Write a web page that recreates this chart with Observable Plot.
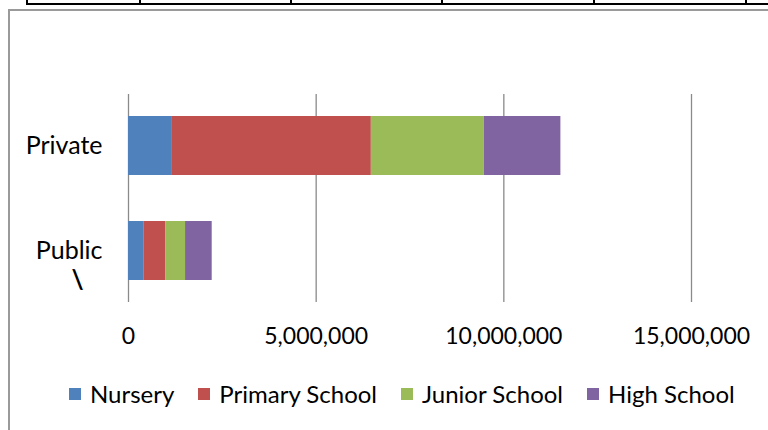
<!DOCTYPE html>
<html>
<head>
<meta charset="utf-8">
<script src="https://cdn.jsdelivr.net/npm/d3@7"></script>
<script src="https://cdn.jsdelivr.net/npm/@observablehq/plot@0.6"></script>
<style>
  html, body { margin: 0; padding: 0; background: #fff; }
  #wrap { position: relative; width: 768px; height: 430px; overflow: hidden; font-family: Lato, "Open Sans", sans-serif; }
  .ruler { position: absolute; background: #000; }
  .frame { position: absolute; background: #9a9a9a; }
  #chart { position: absolute; left: 0; top: 0; }
  #legend { position: absolute; left: 69px; top: 379px; display: flex; align-items: center; font-size: 24px; color: #000; white-space: nowrap; }
  #legend .item { display: flex; align-items: center; margin-right: 24px; }
  #legend .sw { width: 12px; height: 12px; margin-right: 9px; }
</style>
</head>
<body>
<div id="wrap">
  <div class="ruler" style="left:26px; top:3px; width:742px; height:2px;"></div>
  <div class="ruler" style="left:26px; top:0; width:2px; height:4px;"></div>
  <div class="ruler" style="left:139px; top:0; width:2px; height:4px;"></div>
  <div class="ruler" style="left:290px; top:0; width:2px; height:4px;"></div>
  <div class="ruler" style="left:441px; top:0; width:2px; height:4px;"></div>
  <div class="ruler" style="left:593px; top:0; width:2px; height:4px;"></div>
  <div class="ruler" style="left:745px; top:0; width:2px; height:4px;"></div>
  <div class="frame" style="left:8px; top:9px; width:760px; height:2px;"></div>
  <div class="frame" style="left:8px; top:9px; width:2px; height:421px;"></div>
  <div id="chart"></div>
  <div id="legend"></div>
</div>
<script>
const sectors = ["Private", "Public"];
const sectorNotes = ["", "\\"];
const levels = ["Nursery", "Primary School", "Junior School", "High School"];
const colors = ["#4F81BD", "#C0504D", "#9BBB59", "#8064A2"];
const nursery = [1170000, 420000];
const primary = [5300000, 570000];
const junior = [3010000, 530000];
const high = [2040000, 710000];
const xTicks = [0, 5000000, 10000000, 15000000];

const seriesValues = [nursery, primary, junior, high];
const data = [];
levels.forEach((lvl, li) => {
  sectors.forEach((s, si) => {
    data.push({ sector: s, level: lvl, value: seriesValues[li][si] });
  });
});
const notes = sectors.map((s, i) => ({ sector: s, note: sectorNotes[i] }));

const chart = Plot.plot({
  width: 768,
  height: 430,
  marginTop: 94,
  marginBottom: 128,
  marginLeft: 128,
  marginRight: 77,
  style: { fontFamily: "Lato, 'Open Sans', sans-serif", fontSize: "23px", color: "#000", background: "transparent" },
  x: { domain: [0, 15000000], ticks: xTicks, tickFormat: d3.format(","), tickSize: 0, tickPadding: 25, label: null },
  y: { domain: sectors, paddingInner: 0.44, paddingOuter: 0.21, tickSize: 0, tickPadding: 26, label: null },
  color: { domain: levels, range: colors },
  marks: [
    Plot.ruleX(xTicks, { stroke: "#8a8a8a", strokeWidth: 1.3 }),
    Plot.barX(data, Plot.stackX({ y: "sector", x: "value", fill: "level", order: levels })),
    Plot.axisY({ tickSize: 0, tickPadding: 26, fontSize: 25 }),
    Plot.text(notes, { y: "sector", text: "note", frameAnchor: "left", dx: -57, dy: 30, fontSize: 26, fontWeight: "bold", fill: "#000" })
  ]
});
document.getElementById("chart").appendChild(chart);

const legend = document.getElementById("legend");
levels.forEach((lvl, i) => {
  const item = document.createElement("div");
  item.className = "item";
  const sw = document.createElement("div");
  sw.className = "sw";
  sw.style.background = colors[i];
  const t = document.createElement("span");
  t.textContent = lvl;
  item.appendChild(sw);
  item.appendChild(t);
  legend.appendChild(item);
});
</script>
</body>
</html>
